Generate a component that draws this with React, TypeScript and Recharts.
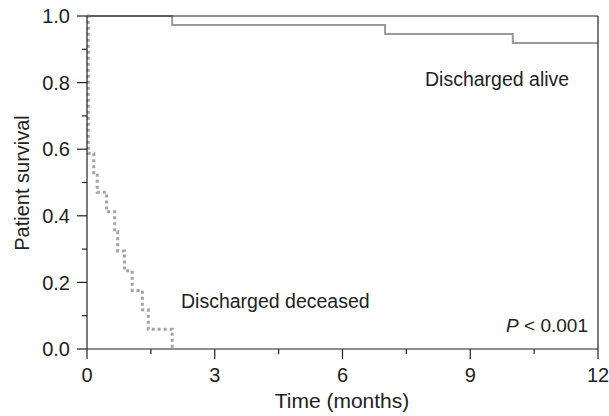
import React from "react";
import { LineChart, Line, XAxis, YAxis, ReferenceLine } from "recharts";

const xTicks = [0, 1.5, 3, 4.5, 6, 7.5, 9, 10.5, 12];
const xMajor = [0, 3, 6, 9, 12];
const yTicks = [0, 0.1, 0.2, 0.3, 0.4, 0.5, 0.6, 0.7, 0.8, 0.9, 1.0];
const yMajor = [0, 0.2, 0.4, 0.6, 0.8, 1.0];

const aliveTime = [0, 2, 7, 10, 12];
const aliveSurv = [1, 0.973, 0.946, 0.919, 0.919];

const deceasedTime = [0, 0.03, 0.16, 0.24, 0.46, 0.65, 0.72, 0.88, 1.06, 1.3, 1.44, 2.0];
const deceasedSurv = [1, 0.588, 0.529, 0.471, 0.412, 0.353, 0.294, 0.235, 0.176, 0.118, 0.059, 0];

const aliveData = aliveTime.map((t, i) => ({ t, s: aliveSurv[i] }));
const deceasedData = deceasedTime.map((t, i) => ({ t, s: deceasedSurv[i] }));

const W = 609;
const H = 416;
const LEFT = 87;
const RIGHT_M = 11;
const TOP = 16;
const BOTTOM = 349;
const FONT = "'Liberation Sans', Arial, sans-serif";
const AXIS_COLOR = "#222";

const XTick = (props: any) => {
  const { x, payload } = props;
  const v = payload.value;
  const major = xMajor.includes(v);
  return (
    <g>
      <line x1={x} x2={x} y1={BOTTOM} y2={BOTTOM + (major ? 10 : 5)} stroke={AXIS_COLOR} strokeWidth={1.2} />
      {major && (
        <text x={x} y={BOTTOM + 33} textAnchor="middle" fontSize={20} fill="#222" fontFamily={FONT}>
          {String(v)}
        </text>
      )}
    </g>
  );
};

const YTick = (props: any) => {
  const { y, payload } = props;
  const v = payload.value;
  const major = yMajor.some((m) => Math.abs(m - v) < 1e-6);
  return (
    <g>
      <line x1={LEFT - (major ? 10 : 5)} x2={LEFT} y1={y} y2={y} stroke={AXIS_COLOR} strokeWidth={1.2} />
      {major && (
        <text x={LEFT - 17} y={y} dy="0.36em" textAnchor="end" fontSize={20} fill="#222" fontFamily={FONT}>
          {v.toFixed(1)}
        </text>
      )}
    </g>
  );
};

export default function App() {
  return (
    <div style={{ position: "absolute", left: 0, top: 0, width: W, height: H, background: "#fff" }}>
      <LineChart width={W} height={H} margin={{ top: TOP, right: RIGHT_M, bottom: 0, left: 0 }}>
        <XAxis
          type="number"
          dataKey="t"
          domain={[0, 12]}
          ticks={xTicks}
          interval={0}
          height={H - BOTTOM}
          tickLine={false}
          axisLine={{ stroke: AXIS_COLOR, strokeWidth: 1.2 }}
          tick={<XTick />}
          allowDuplicatedCategory={false}
        />
        <YAxis
          type="number"
          domain={[0, 1]}
          ticks={yTicks}
          interval={0}
          width={LEFT}
          tickLine={false}
          axisLine={{ stroke: AXIS_COLOR, strokeWidth: 1.2 }}
          tick={<YTick />}
        />
        <Line
          data={aliveData}
          dataKey="s"
          type="stepAfter"
          stroke="#9a9a9a"
          strokeWidth={2}
          dot={false}
          isAnimationActive={false}
        />
        <Line
          data={deceasedData}
          dataKey="s"
          type="stepAfter"
          stroke="#a3a3a3"
          strokeWidth={3}
          strokeDasharray="3 3"
          dot={false}
          isAnimationActive={false}
        />
        <ReferenceLine y={1} stroke={AXIS_COLOR} strokeWidth={1.2} />
        <ReferenceLine x={12} stroke={AXIS_COLOR} strokeWidth={1.2} />
      </LineChart>
      <svg
        width={W}
        height={H}
        style={{ position: "absolute", left: 0, top: 0, pointerEvents: "none" }}
      >
        <text x={425} y={86} fontSize={19.5} fill="#222" fontFamily={FONT}>
          Discharged alive
        </text>
        <text x={181} y={308} fontSize={19.5} fill="#222" fontFamily={FONT}>
          Discharged deceased
        </text>
        <text x={588} y={332} textAnchor="end" fontSize={19} fill="#222" fontFamily={FONT}>
          <tspan fontStyle="italic">P</tspan>
          <tspan> &lt; 0.001</tspan>
        </text>
        <text x={342} y={408} textAnchor="middle" fontSize={21} fill="#222" fontFamily={FONT}>
          Time (months)
        </text>
        <text
          x={0}
          y={0}
          transform="translate(29, 183) rotate(-90)"
          textAnchor="middle"
          fontSize={20}
          fill="#222"
          fontFamily={FONT}
        >
          Patient survival
        </text>
      </svg>
    </div>
  );
}
